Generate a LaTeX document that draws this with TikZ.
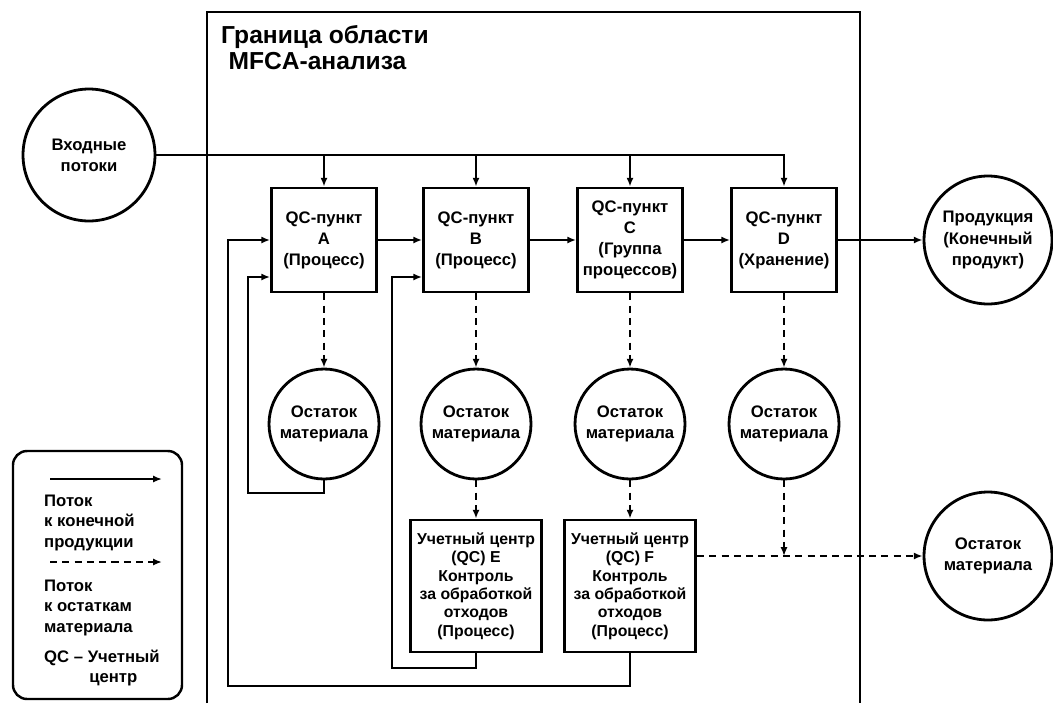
\documentclass[tikz,border=0pt]{standalone}
\usepackage{fontspec}
\setmainfont{Liberation Sans}
\usetikzlibrary{arrows.meta}

\begin{document}
\begin{tikzpicture}[x=0.02cm, y=-0.02cm,
        font=\fontsize{9.5}{12}\selectfont\bfseries,
        qcbox/.style={draw, line width=1.6pt, minimum width=2.1cm, minimum height=2.08cm, align=center, inner sep=1pt},
        qcwide/.style={qcbox, minimum width=2.62cm, minimum height=2.64cm, font=\fontsize{9}{10.5}\selectfont\bfseries},
        restcirc/.style={draw, shape=circle, line width=1.6pt, minimum size=2.2cm, align=center, inner sep=0pt},
        bigcirc/.style={restcirc, minimum size=2.56cm},
        flow/.style={line width=1.2pt, -{Latex[length=5pt,width=4pt]}},
        waste/.style={flow, dash pattern=on 4pt off 3pt}]
    \useasboundingbox (0,0) rectangle (1053,703);

    % Grenze
    \draw[line width=1.4pt] (207,703) -- (207,12) -- (860,12) -- (860,703);
    \node (titel) at (215,19) [anchor=north west, align=left, font=\fontsize{14}{15}\selectfont\bfseries] {Граница области\\\hspace*{0.3em}MFCA-анализа};

    \node (ein) at (89,155) [bigcirc, minimum size=2.64cm] {Входные\\потоки};
    \node (prod) at (988,240) [bigcirc] {Продукция\\(Конечный\\продукт)};
    \node (raus) at (988,556) [bigcirc] {Остаток\\материала};

    \node (qa) at (324,240) [qcbox] {QC-пункт\\A\\(Процесс)};
    \node (qb) at (476,240) [qcbox] {QC-пункт\\B\\(Процесс)};
    \node (qc) at (630,240) [qcbox] {QC-пункт\\C\\(Группа\\процессов)};
    \node (qd) at (784,240) [qcbox] {QC-пункт\\D\\(Хранение)};

    \foreach \n/\x in {a/324, b/476, c/630, d/784}
        \node (r\n) at (\x,424) [restcirc] {Остаток\\материала};

    \node (qe) at (476,586) [qcwide] {Учетный центр\\(QC) E\\Контроль\\за обработкой\\отходов\\(Процесс)};
    \node (qf) at (630,586) [qcwide] {Учетный центр\\(QC) F\\Контроль\\за обработкой\\отходов\\(Процесс)};

    % Hauptfluss
    \draw[flow] (ein.east) -| (qd.north);
    \foreach \n in {qa, qb, qc}
        \draw[flow] (\n.north |- ein.east) -- (\n.north);
    \draw[flow] (qa) -- (qb);
    \draw[flow] (qb) -- (qc);
    \draw[flow] (qc) -- (qd);
    \draw[flow] (qd) -- (prod);

    % Rueckfuehrungen
    \draw[flow] (ra.south) |- (248,493) |- (qa.west |- 0,277);
    \draw[flow] (qe.south) |- (392,668) |- (qb.west |- 0,277);
    \draw[flow] (qf.south) |- (228,686) |- (qa.west);

    % Reste
    \foreach \n in {a, b, c, d}
        \draw[waste] (q\n.south) -- (r\n.north);
    \draw[waste] (rb.south) -- (qe.north);
    \draw[waste] (rc.south) -- (qf.north);
    \draw[waste] (qf.east |- raus.west) -- (raus.west);
    \draw[waste] (rd.south) -- (rd.south |- raus.west);

    % Legende
    \draw[line width=1.4pt, rounded corners=8pt] (13,451) rectangle (182,699);
    \coordinate (l1a) at (50,479);
    \coordinate (l1b) at (162,479);
    \coordinate (l2a) at (50,562);
    \coordinate (l2b) at (162,562);
    \draw[flow] (l1a) -- (l1b);
    \draw[waste] (l2a) -- (l2b);
    \node (leg1) at (38,489) [anchor=north west, align=left, font=\fontsize{9.5}{11.5}\selectfont\bfseries] {Поток\\к конечной\\продукции};
    \node (leg2) at (38,574) [anchor=north west, align=left, font=\fontsize{9.5}{11.5}\selectfont\bfseries] {Поток\\к остаткам\\материала};
    \node (leg3) at (38,644) [anchor=north west, align=left, font=\fontsize{9.5}{11.5}\selectfont\bfseries] {QC -- Учетный\\\hspace*{2.7em}центр};
\end{tikzpicture}
\end{document}
